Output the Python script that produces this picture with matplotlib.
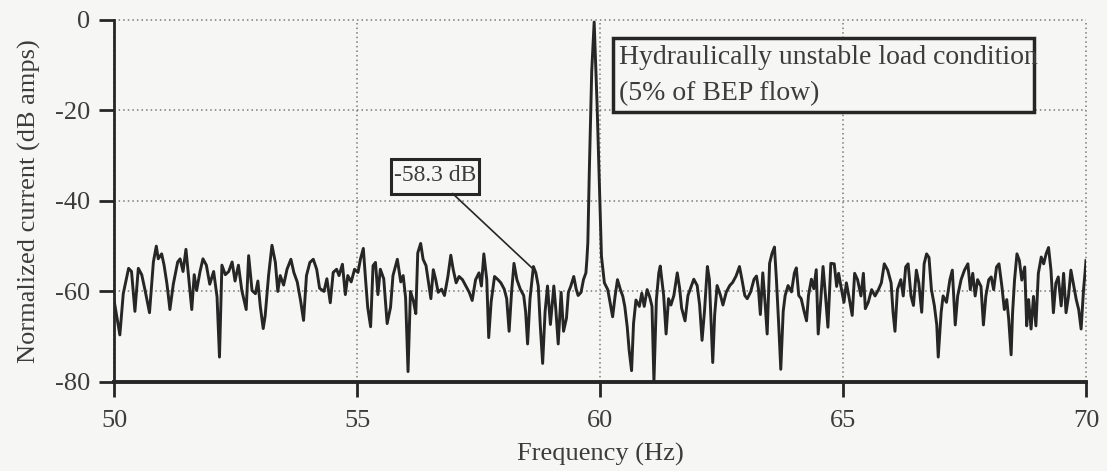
import matplotlib.pyplot as plt
from matplotlib.patches import Rectangle

# spectrum: frequency (Hz) and level (dB amps)
freq = [50.00, 50.12, 50.19, 50.30, 50.36, 50.43, 50.50, 50.57, 50.64, 50.73,
        50.81, 50.87, 50.91, 50.98, 51.03, 51.09, 51.15, 51.22, 51.31, 51.36,
        51.42, 51.48, 51.53, 51.60, 51.65, 51.70, 51.77, 51.83, 51.90, 51.97,
        52.05, 52.12, 52.17, 52.22, 52.29, 52.36, 52.43, 52.49, 52.56, 52.63,
        52.72, 52.77, 52.84, 52.91, 52.96, 53.01, 53.07, 53.11,
        53.18, 53.25, 53.32, 53.37, 53.42, 53.49, 53.56, 53.64, 53.70, 53.77,
        53.84, 53.90, 53.96, 54.03, 54.10, 54.17, 54.23, 54.32, 54.38, 54.45,
        54.51, 54.58, 54.63, 54.70, 54.76, 54.81, 54.88, 54.95, 55.02, 55.07,
        55.13, 55.17, 55.22, 55.28, 55.33, 55.38, 55.43, 55.48, 55.55, 55.62,
        55.69, 55.74, 55.83, 55.90, 55.95, 56.00, 56.05, 56.10, 56.16, 56.21,
        56.25, 56.31, 56.36, 56.42, 56.48,
        56.52, 56.57, 56.62, 56.67, 56.74, 56.80, 56.87, 56.93, 56.98, 57.04,
        57.10, 57.17, 57.24, 57.31, 57.37, 57.44, 57.51, 57.56, 57.61, 57.67,
        57.71, 57.76, 57.83, 57.90, 57.96, 58.03, 58.08, 58.13, 58.18, 58.23,
        58.29, 58.36, 58.43, 58.47, 58.51, 58.56, 58.63, 58.68, 58.73, 58.77,
        58.82, 58.87, 58.92, 58.98, 59.05, 59.09, 59.14, 59.20, 59.25, 59.31,
        59.35, 59.40, 59.46, 59.51, 59.55, 59.61, 59.66, 59.71,
        59.73, 59.75, 59.78, 59.83, 59.88, 59.94, 59.99, 60.03, 60.09, 60.16,
        60.21, 60.26, 60.31, 60.36, 60.42, 60.47, 60.51, 60.56, 60.60, 60.65,
        60.69, 60.74, 60.81, 60.86, 60.91, 60.97, 61.02, 61.07, 61.11, 61.16,
        61.21, 61.24,
        61.31, 61.36, 61.41, 61.46, 61.52, 61.59, 61.64, 61.68, 61.75, 61.81,
        61.86, 61.93, 62.00, 62.05, 62.10, 62.15, 62.21, 62.25, 62.29, 62.32,
        62.36, 62.41, 62.48, 62.53, 62.60, 62.67, 62.73, 62.80, 62.87, 62.92,
        62.98, 63.03, 63.10, 63.17, 63.22, 63.26, 63.30, 63.35, 63.40, 63.44,
        63.49, 63.54, 63.59, 63.63, 63.68, 63.72, 63.77, 63.81, 63.87, 63.94,
        64.00, 64.04, 64.09, 64.14, 64.20, 64.25, 64.29, 64.35, 64.40, 64.45,
        64.49, 64.54, 64.59, 64.64, 64.69, 64.75,
        64.82, 64.87, 64.91, 64.97, 65.02, 65.07, 65.12, 65.19, 65.24, 65.30,
        65.37, 65.42, 65.46, 65.52, 65.59, 65.66, 65.73, 65.79, 65.85, 65.92,
        65.99, 66.03, 66.07, 66.12, 66.19, 66.24, 66.29, 66.34, 66.40, 66.45,
        66.51, 66.56, 66.62, 66.67, 66.72, 66.77, 66.82, 66.88, 66.93, 66.96,
        67.02, 67.06, 67.13, 67.20, 67.25, 67.31, 67.36, 67.43, 67.50, 67.57,
        67.62, 67.67, 67.72, 67.77, 67.84, 67.89, 67.94, 68.00,
        68.05, 68.10, 68.16, 68.21, 68.27, 68.32, 68.37, 68.41, 68.46, 68.49,
        68.53, 68.58, 68.63, 68.68, 68.74, 68.78, 68.82, 68.87, 68.92, 68.97,
        69.02, 69.08, 69.13, 69.18, 69.23, 69.28, 69.33, 69.38, 69.43, 69.49,
        69.54, 69.59, 69.64, 69.69, 69.75, 69.80, 69.85, 69.90, 69.95, 69.98,
        70.00]

level = [-61.9, -69.6, -60.5, -54.9, -55.6, -64.4, -54.9, -56.3, -59.8, -64.7,
         -53.5, -50.0, -52.8, -51.7, -54.2, -58.4, -64.0, -58.4, -53.5, -52.8,
         -55.6, -50.7, -56.3, -64.0, -56.3, -59.8, -55.6, -52.8, -54.2, -58.4,
         -55.6, -61.2, -74.5, -54.2, -56.3, -55.6, -53.5, -57.7, -54.2, -59.8,
         -64.0, -52.1, -59.8, -60.5, -57.7, -63.3, -68.2, -65.4,
         -56.5, -49.8, -53.6, -60.0, -56.5, -58.6, -55.1, -52.9, -55.8, -57.9,
         -62.1, -66.4, -56.5, -53.6, -52.9, -55.1, -59.3, -60.0, -57.2, -62.5,
         -55.8, -55.1, -56.5, -54.0, -60.7, -56.5, -57.9, -55.1, -55.8, -52.9,
         -50.5, -56.5, -63.5, -67.8, -54.3, -53.6, -60.7, -55.1, -57.2, -67.1,
         -63.5, -56.5, -52.9, -57.9, -56.5, -61.4, -77.7, -60.0, -62.1, -64.9,
         -51.5, -49.4, -52.9, -54.3, -58.6,
         -61.6, -55.2, -57.4, -60.2, -59.5, -60.9, -56.7, -52.0, -55.2, -58.1,
         -56.7, -57.4, -58.8, -60.2, -62.0, -57.4, -55.9, -58.8, -51.7, -57.4,
         -70.2, -62.3, -56.7, -57.4, -58.1, -59.5, -61.6, -68.8, -60.2, -53.8,
         -57.4, -59.5, -60.9, -64.5, -71.6, -61.6, -54.5, -55.9, -58.8, -67.3,
         -75.9, -64.5, -58.8, -67.3, -58.8, -63.8, -71.6, -60.2, -68.8, -65.9,
         -60.2, -58.8, -56.7, -59.5, -60.9, -60.2, -57.4, -55.9,
         -53.0, -49.2, -33.6, -11.3, -0.5, -18.7, -37.3, -52.2, -58.1, -59.6,
         -62.6, -65.6, -61.1, -57.4, -59.6, -61.1, -63.3, -67.8, -73.0, -77.5,
         -67.1, -61.9, -63.3, -60.4, -63.3, -59.6, -61.1, -63.3, -80.0, -61.9,
         -55.9, -54.4,
         -60.9, -69.4, -61.6, -63.0, -60.9, -55.9, -59.4, -63.7, -66.5, -60.9,
         -59.4, -57.3, -58.7, -63.0, -70.8, -64.4, -54.5, -57.3, -67.9, -75.7,
         -65.1, -58.7, -60.9, -63.0, -60.1, -58.7, -58.0, -56.6, -54.5, -57.3,
         -60.9, -61.6, -60.1, -57.3, -56.6, -59.4, -65.1, -55.9, -63.0, -69.4,
         -53.8, -51.6, -50.2, -57.3, -67.9, -77.2, -64.4, -60.9, -58.7, -60.1,
         -55.9, -54.8, -60.9, -61.6, -64.4, -66.5, -60.9, -57.3, -59.4, -55.2,
         -69.4, -62.3, -54.5, -60.9, -67.9, -53.8,
         -53.9, -58.9, -56.0, -59.6, -62.4, -58.1, -61.0, -65.3, -56.0, -57.4,
         -61.0, -56.0, -63.8, -62.4, -59.6, -61.0, -59.6, -58.1, -53.9, -55.3,
         -58.1, -64.6, -68.8, -59.6, -57.4, -61.0, -54.6, -53.9, -61.0, -63.1,
         -55.3, -58.1, -64.6, -53.9, -51.7, -52.5, -59.6, -63.1, -67.4, -74.5,
         -64.6, -61.0, -62.4, -57.4, -55.3, -67.4, -61.0, -57.4, -55.3, -53.9,
         -59.6, -56.0, -61.0, -57.4, -58.9, -67.4, -61.0, -57.4,
         -56.8, -59.6, -54.6, -53.9, -58.9, -64.0, -61.8, -66.1, -74.0, -64.7,
         -57.5, -51.7, -53.2, -57.5, -54.6, -67.6, -61.8, -68.3, -61.1, -67.6,
         -56.0, -52.4, -53.9, -51.7, -50.3, -55.3, -64.7, -58.2, -56.8, -63.2,
         -56.0, -64.7, -61.1, -55.3, -58.9, -61.8, -64.0, -68.3, -59.6, -56.0,
         -53.2]

xticks = [50, 55, 60, 65, 70]
yticks = [0, -20, -40, -60, -80]

plt.rcParams['font.family'] = 'Liberation Serif'
plt.rcParams['axes.unicode_minus'] = False
ink = '#262626'
txt = '#3c3c3c'
paper = '#f6f6f4'

fig = plt.figure(figsize=(11.07, 4.71), dpi=100, facecolor=paper)
ax = fig.add_axes([0.103, 0.189, 0.878, 0.769])
ax.set_facecolor(paper)

ax.plot(freq, level, color=ink, lw=2.1, zorder=3)

ax.set_xlim(50, 70)
ax.set_ylim(-80, 0)
ax.set_xticks(xticks)
ax.set_yticks(yticks)
ax.tick_params(direction='out', length=11, width=2, color=ink,
               labelsize=19, labelcolor=txt)
ax.tick_params(axis='x', pad=9)
ax.tick_params(axis='y', pad=6)
ax.grid(True, linestyle=(0, (1, 2)), color='#7a7a7a', lw=1.1)
for gl in ax.get_xgridlines() + ax.get_ygridlines():
    gl.set_clip_on(False)

for s in ['top', 'right']:
    ax.spines[s].set_visible(False)
ax.spines['left'].set_linewidth(2)
ax.spines['bottom'].set_linewidth(2.8)
ax.spines['left'].set_color(ink)
ax.spines['bottom'].set_color(ink)

ax.set_xlabel('Frequency (Hz)', fontsize=19, color=txt, labelpad=8)
ax.set_ylabel('Normalized current (dB amps)', fontsize=19, color=txt, labelpad=10)

# annotation boxes
box = Rectangle((60.27, -20.4), 8.66, 16.4, fill=True, facecolor=paper,
                edgecolor=ink, lw=2.5, zorder=4)
ax.add_patch(box)
t1 = ax.text(60.40, -8.4, 'Hydraulically unstable load condition', fontsize=20,
             color=txt, va='center', ha='left', zorder=5)
t2 = ax.text(60.40, -16.2, '(5% of BEP flow)', fontsize=20,
             color=txt, va='center', ha='left', zorder=5)
t1.set_clip_path(box)

small = Rectangle((55.69, -38.4), 1.81, 7.6, fill=True, facecolor=paper,
                  edgecolor=ink, lw=2.2, zorder=4)
ax.add_patch(small)
ax.text(56.60, -34.5, '-58.3 dB', fontsize=17, color=txt,
        va='center', ha='center', zorder=5)
ax.plot([56.97, 58.61], [-38.4, -54.9], color=ink, lw=1.2, zorder=4)

fig.savefig('out.png', dpi=100, facecolor=fig.get_facecolor())
